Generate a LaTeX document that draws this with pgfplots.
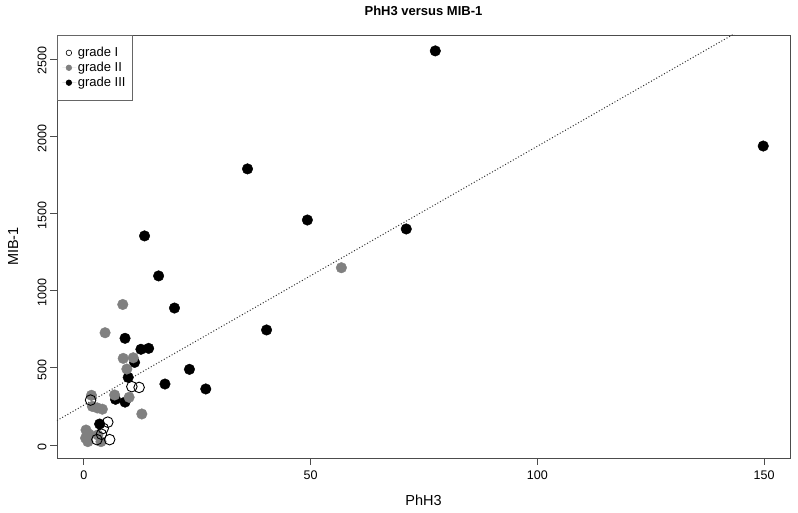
\documentclass[border=0pt]{standalone}
\usepackage{pgfplots}
\pgfplotsset{compat=1.18}
\usepackage{fontspec}
\setmainfont{Liberation Sans}

% grade I, II, III (PhH3, MIB-1)
\pgfplotstableread{
x y
1.5 291
10.6 378
12.2 373
5.3 148
4.3 108
2.9 35
5.7 35
3.9 70
}\gradeone
\pgfplotstableread{
x y
8.6 910
4.7 727
8.7 561
10.9 565
9.5 492
1.7 322
6.8 324
10.0 309
1.9 250
3.0 240
4.1 232
12.8 201
56.8 1148
0.5 97
0.4 45
0.9 22
3.1 65
3.8 22
1.2 70
}\gradetwo
\pgfplotstableread{
x y
77.5 2552
149.8 1936
36.1 1788
49.3 1457
71.1 1399
13.4 1354
16.5 1095
20.0 887
40.3 745
9.1 691
12.6 620
14.3 626
23.3 490
11.2 535
9.8 438
17.9 395
26.9 363
7.0 296
9.1 278
3.5 136
}\gradethree

\begin{document}
\begin{tikzpicture}
\path[use as bounding box] (-57pt,-55pt) rectangle (741pt,458pt);
\begin{axis}[
    scale only axis,
    width=733pt, height=423pt,
    xmin=-5.9, xmax=155.7,
    ymin=-84, ymax=2655,
    xtick={0,50,100,150},
    ytick={0,500,1000,1500,2000,2500},
    tick align=outside,
    xtick pos=bottom, ytick pos=left,
    major tick length=7pt,
    axis line style={black!70, line width=0.8pt},
    tick style={black!70, line width=0.8pt},
    /pgf/number format/assume math mode=true,
    /pgf/number format/1000 sep={},
    ticklabel style={font=\fontsize{12.5}{15}\selectfont},
    xticklabel style={yshift=-2pt},
    yticklabel style={rotate=90, anchor=south, xshift=-2pt},
    title={\bfseries PhH3 versus MIB-1},
    title style={font=\fontsize{13}{16}\selectfont, at={(axis description cs:0.5,1.031)}, anchor=base},
    xlabel={PhH3},
    ylabel={MIB-1},
    xlabel style={font=\fontsize{14.5}{17}\selectfont, at={(axis description cs:0.5,-0.099)}, anchor=center},
    ylabel style={font=\fontsize{14.5}{17}\selectfont, at={(axis description cs:-0.06,0.5)}, anchor=center},
    legend style={at={(0,1)}, anchor=north west, draw=black!60, line width=0.8pt,
        font=\fontsize{13}{15}\selectfont, inner xsep=5pt, inner ysep=10.5pt,
        row sep=1pt, nodes={inner sep=1.5pt}},
    legend cell align=left,
    reverse legend,
    legend image code/.code={\path[draw=none] (0pt,0pt) -- (14pt,0pt);
        \draw[#1, mark size=2.8pt, line width=0.6pt] plot coordinates {(6.5pt,0pt)};},
]
\addplot[only marks, mark=*, mark size=5.3pt, draw=black, fill=black]
    table[x=x, y=y] {\gradethree};
\addlegendentry{grade III}
\addplot[only marks, mark=*, mark size=5.3pt, draw=gray, fill=gray]
    table[x=x, y=y] {\gradetwo};
\addlegendentry{grade II}
\addplot[only marks, mark=o, mark size=5.3pt, draw=black, line width=0.9pt]
    table[x=x, y=y] {\gradeone};
\addlegendentry{grade I}
\addplot[black!80, line width=1pt, dash pattern=on 1pt off 2pt, forget plot]
    coordinates {(-5.9,158.7) (155.7,2868.7)};
\end{axis}
\end{tikzpicture}
\end{document}
